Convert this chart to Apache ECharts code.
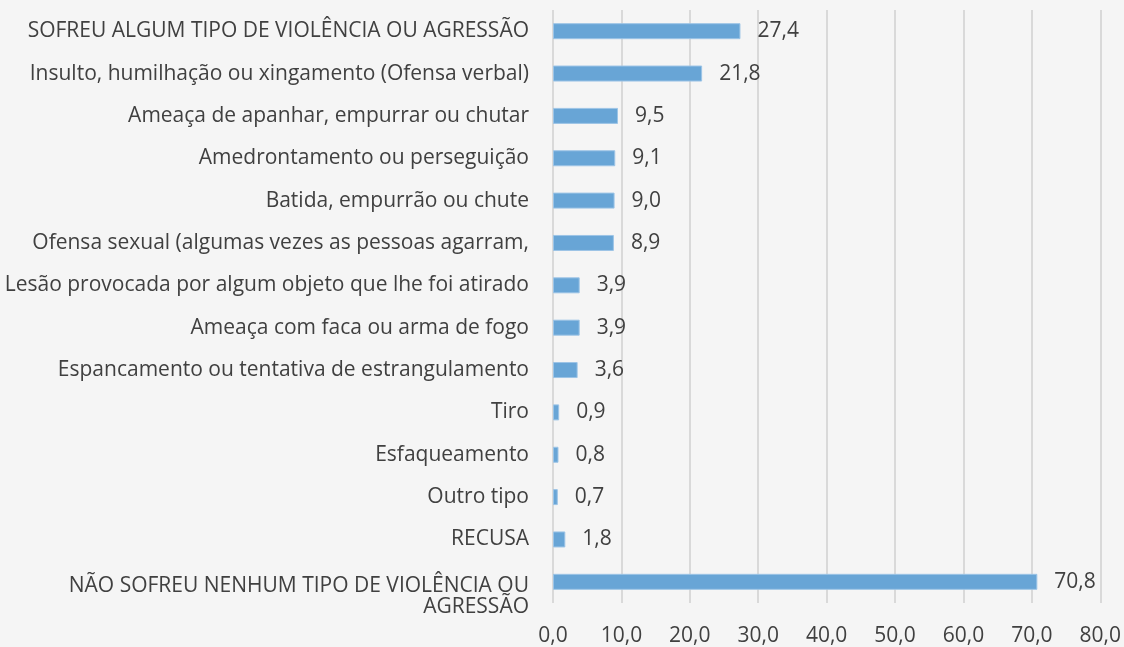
<!DOCTYPE html>
<html>
<head>
<meta charset="utf-8">
<script src="https://cdn.jsdelivr.net/npm/echarts@6/dist/echarts.min.js"></script>
<style>
  html, body { margin: 0; padding: 0; background: #f5f5f5; }
  #chart { width: 1124px; height: 647px; }
</style>
</head>
<body>
<div id="chart"></div>
<script>
const categories = [
  'SOFREU ALGUM TIPO DE VIOLÊNCIA OU AGRESSÃO',
  'Insulto, humilhação ou xingamento (Ofensa verbal)',
  'Ameaça de apanhar, empurrar ou chutar',
  'Amedrontamento ou perseguição',
  'Batida, empurrão ou chute',
  'Ofensa sexual (algumas vezes as pessoas agarram,',
  'Lesão provocada por algum objeto que lhe foi atirado',
  'Ameaça com faca ou arma de fogo',
  'Espancamento ou tentativa de estrangulamento',
  'Tiro',
  'Esfaqueamento',
  'Outro tipo',
  'RECUSA',
  'NÃO SOFREU NENHUM TIPO DE VIOLÊNCIA OU\nAGRESSÃO'
];
const values = [27.4, 21.8, 9.5, 9.1, 9.0, 8.9, 3.9, 3.9, 3.6, 0.9, 0.8, 0.7, 1.8, 70.8];

const fmt = v => Number(v).toFixed(1).replace('.', ',');

const chart = echarts.init(document.getElementById('chart'), null, { renderer: 'canvas' });

chart.setOption({
  backgroundColor: '#f5f5f5',
  animation: false,
  textStyle: { fontFamily: 'Open Sans' },
  grid: { left: 553, right: 22, top: 10, bottom: 42, containLabel: false },
  xAxis: {
    type: 'value',
    min: 0,
    max: 80,
    interval: 10,
    axisLine: { show: false },
    axisTick: { show: false },
    axisLabel: {
      formatter: fmt,
      color: '#404040',
      fontSize: 21,
      margin: 23
    },
    splitLine: { lineStyle: { color: '#d9d9d9', width: 2 } }
  },
  yAxis: {
    type: 'category',
    inverse: true,
    data: categories,
    axisLine: { show: false },
    axisTick: { show: false },
    axisLabel: {
      interval: 0,
      hideOverlap: false,
      color: '#404040',
      fontSize: 21,
      margin: 24,
      lineHeight: 21,
      // the wrapped last label sits lower than its bar, as in the original
      formatter: v => v.indexOf('\n') >= 0 ? '{low|' + v.split('\n').join('}\n{low|') + '}' : v,
      rich: {
        low: { fontSize: 21, lineHeight: 21, color: '#404040', padding: [30, 0, 0, 0] }
      }
    }
  },
  series: [{
    type: 'bar',
    data: values,
    barWidth: 16,
    itemStyle: { color: '#68a5d6', borderColor: '#9cc4e6', borderWidth: 1 },
    label: {
      show: true,
      position: 'right',
      distance: 17,
      formatter: p => fmt(p.value),
      color: '#404040',
      fontSize: 21
    }
  }]
});
</script>
</body>
</html>
